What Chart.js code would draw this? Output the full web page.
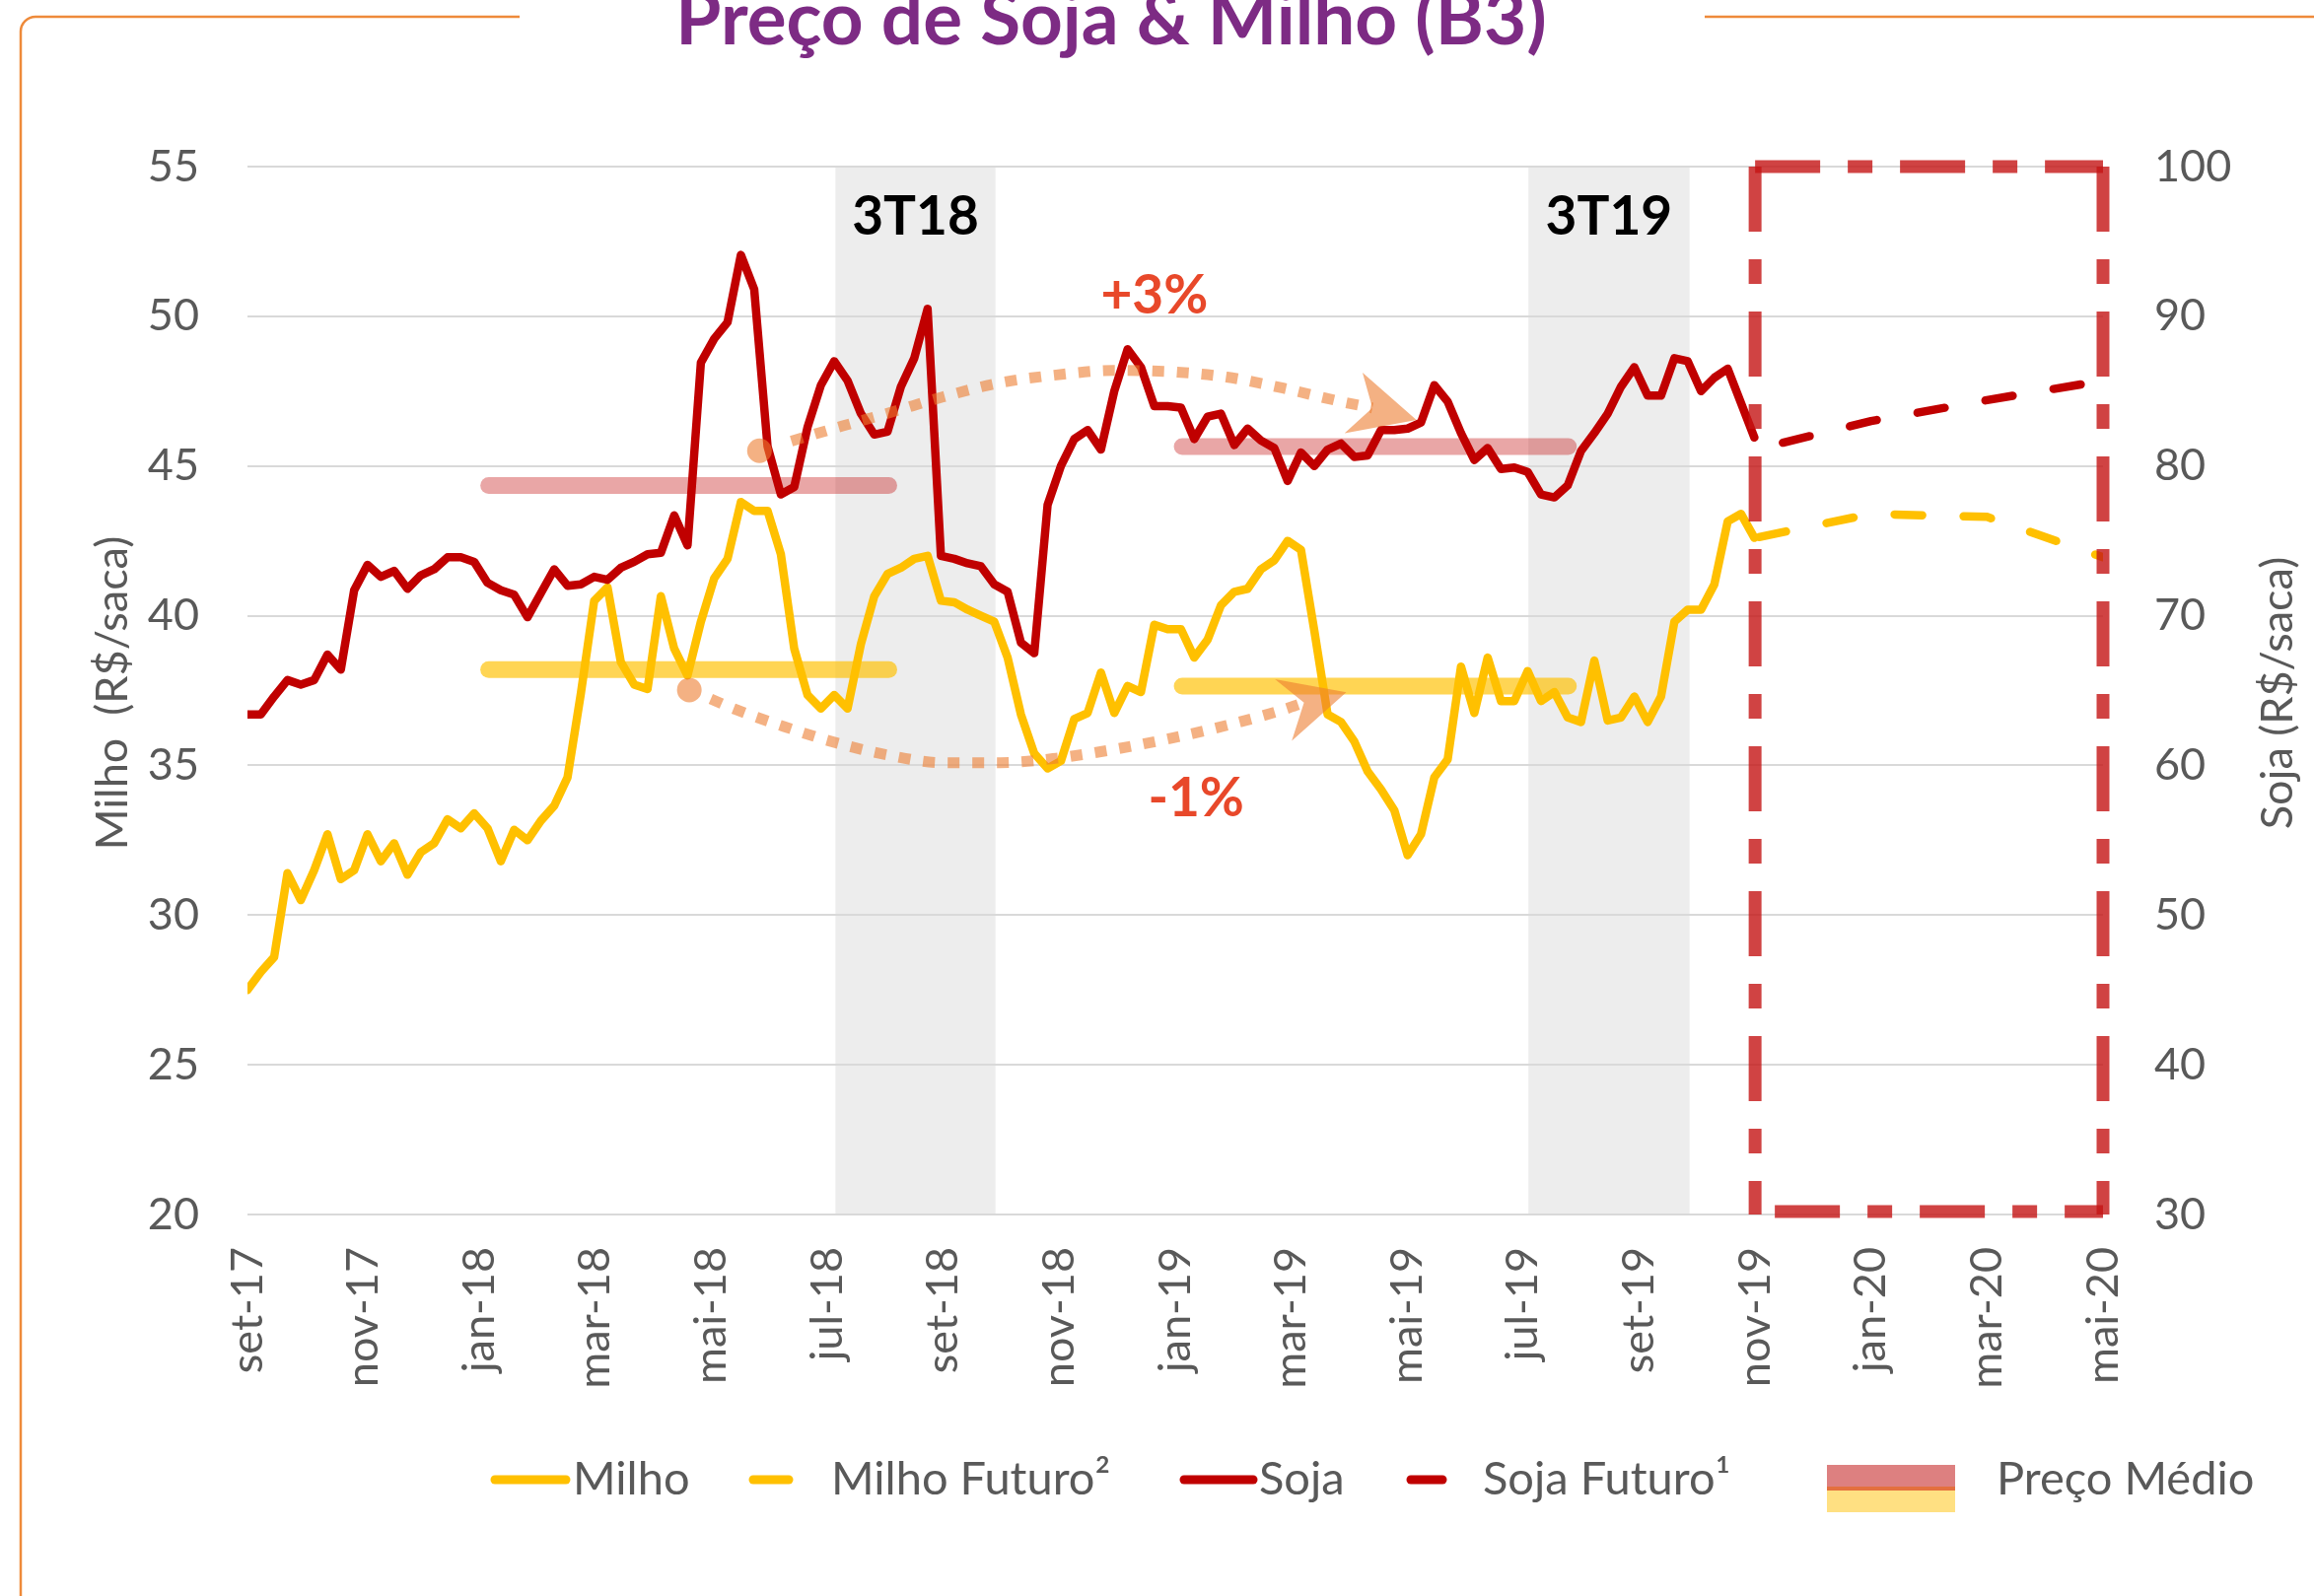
<!DOCTYPE html>
<html><head><meta charset="utf-8">
<script src="https://cdn.jsdelivr.net/npm/chart.js@4.4.0/dist/chart.umd.min.js"></script>
<style>html,body{margin:0;padding:0;background:#fff;}canvas{display:block;}</style>
</head><body>
<canvas id="c" width="2347" height="1619"></canvas>
<script>
// ---- data ----
const tickLabels = ['set-17','nov-17','jan-18','mar-18','mai-18','jul-18','set-18','nov-18','jan-19','mar-19','mai-19','jul-19','set-19','nov-19','jan-20','mar-20','mai-20'];
const milho = [27.5,28.1,28.6,31.4,30.5,31.5,32.7,31.2,31.5,32.7,
 31.8,32.4,31.35,32.1,32.4,33.2,32.9,33.4,32.9,31.8,
 32.85,32.5,33.15,33.65,34.6,37.4,40.5,40.95,38.45,37.7,
 37.55,40.65,38.9,38.0,39.8,41.25,41.9,43.8,43.5,43.5,
 42.05,38.9,37.35,36.9,37.35,36.9,39.05,40.65,41.4,41.6,
 41.9,42.0,40.5,40.45,40.2,40.0,39.8,38.6,36.7,35.4,
 34.9,35.15,36.55,36.75,38.1,36.75,37.65,37.45,39.7,39.55,
 39.55,38.6,39.2,40.35,40.8,40.9,41.55,41.85,42.5,42.2,
 39.5,36.7,36.45,35.8,34.8,34.2,33.5,32.0,32.7,34.6,
 35.2,38.3,36.75,38.6,37.15,37.15,38.15,37.15,37.45,36.6,
 36.45,38.5,36.5,36.6,37.3,36.45,37.3,39.8,40.2,40.2,
 41.05,43.15,43.4,42.6];
const soja = [63.4,63.4,64.6,65.7,65.4,65.7,67.4,66.4,71.7,73.4,
 72.6,73.0,71.8,72.7,73.1,73.9,73.9,73.6,72.2,71.7,
 71.4,69.9,71.5,73.1,72.0,72.1,72.6,72.4,73.2,73.6,
 74.1,74.2,76.7,74.7,86.9,88.5,89.6,94.1,91.8,81.3,
 78.1,78.6,82.6,85.4,87.0,85.7,83.5,82.1,82.3,85.3,
 87.2,90.5,74.0,73.8,73.5,73.3,72.1,71.6,68.2,67.5,
 77.4,80.0,81.8,82.4,81.1,85.0,87.8,86.6,84.0,84.0,
 83.9,81.8,83.3,83.5,81.4,82.5,81.7,81.2,79.0,80.9,
 80.0,81.1,81.5,80.6,80.7,82.4,82.4,82.5,82.9,85.4,
 84.3,82.2,80.4,81.2,79.8,79.9,79.6,78.1,77.9,78.7,
 81.0,82.2,83.5,85.3,86.6,84.7,84.7,87.2,87.0,85.0,
 85.9,86.5,null,81.9];
const futuroMeses = [26, 28, 30, 32];
const milhoFuturo = [42.6, 43.4, 43.3, 41.95];
const sojaFuturo = [81.1, 83.0, 84.4, 85.7];
const trimestres = ['3T18', '3T19'];
const trimestreInicio = [10.14, 22.09];
const trimestreFim = [12.9, 24.87];
const mediaInicio = [4.16, 16.12];
const mediaFim = [11.06, 22.78];
const mediaSoja = [78.7, 81.3];
const mediaMilho = [38.2, 37.65];
const variacoes = ['+3%', '-1%'];
const variacaoX = [15.64, 16.36];
const variacaoY = [50.67, 33.89];
const arcoSojaX = [8.83, 9.38, 10.25, 11.11, 12.0, 12.98, 13.95, 14.93, 15.91, 16.89, 17.86, 18.84, 19.4];
const arcoSojaY = [45.51, 45.83, 46.33, 46.8, 47.31, 47.78, 48.04, 48.19, 48.15, 47.97, 47.6, 47.16, 46.94];
const arcoMilhoX = [7.62, 7.99, 8.43, 9.25, 10.16, 11.03, 12.0, 12.98, 13.95, 14.93, 15.91, 16.89, 17.86, 18.22];
const arcoMilhoY = [37.52, 37.22, 36.86, 36.3, 35.75, 35.35, 35.09, 35.09, 35.24, 35.53, 35.9, 36.34, 36.86, 37.1];
const setaSojaX = [19.23, 20.16, 18.92, 19.4];
const setaSojaY = [48.12, 46.54, 46.09, 46.94];
const setaMilhoX = [17.72, 18.95, 18.01, 18.22];
const setaMilhoY = [37.88, 37.44, 35.82, 37.1];
const caixaFuturo = [26, 32];

// ---- helpers ----
const diasPorMes = 30.4375;
const semanaX = i => i * 7 / diasPorMes;
const serie = ys => ys.map((v, i) => ({x: semanaX(i), y: v}));
const pares = (xs, ys) => xs.map((v, i) => ({x: v, y: ys[i]}));
const FONT = 'Lato, "Open Sans", sans-serif';
const GREY = '#595959';
const ARC = 'rgba(237,125,49,0.6)';
const LW = 8.5;

const decor = {
  id: 'decor',
  beforeDraw(chart) {
    const {ctx, chartArea: a, scales: {x}} = chart;
    ctx.save();
    ctx.fillStyle = '#fff';
    ctx.fillRect(0, 0, chart.width, chart.height);
    ctx.fillStyle = '#EDEDED';
    trimestres.forEach((t, i) => {
      const x0 = x.getPixelForValue(trimestreInicio[i]);
      const x1 = x.getPixelForValue(trimestreFim[i]);
      ctx.fillRect(x0, a.top, x1 - x0, a.bottom - a.top);
    });
    ctx.restore();
  },
  afterDatasetsDraw(chart) {
    const {ctx, chartArea: a, scales: {x, y}} = chart;
    ctx.save();
    [[setaSojaX, setaSojaY], [setaMilhoX, setaMilhoY]].forEach(([xs, ys]) => {
      ctx.beginPath();
      xs.forEach((v, i) => {
        const px = x.getPixelForValue(v), py = y.getPixelForValue(ys[i]);
        if (i === 0) ctx.moveTo(px, py); else ctx.lineTo(px, py);
      });
      ctx.closePath();
      ctx.fillStyle = ARC;
      ctx.fill();
    });
    const bx0 = x.getPixelForValue(caixaFuturo[0]);
    const bx1 = x.getPixelForValue(caixaFuturo[1]);
    ctx.strokeStyle = 'rgba(196,20,20,0.8)';
    ctx.lineWidth = 13;
    ctx.setLineDash([66, 28, 25, 28]);
    ctx.beginPath(); ctx.moveTo(bx0, a.top); ctx.lineTo(bx1, a.top); ctx.stroke();
    ctx.beginPath(); ctx.moveTo(bx0, a.top); ctx.lineTo(bx0, a.bottom); ctx.stroke();
    ctx.beginPath(); ctx.moveTo(bx1, a.top); ctx.lineTo(bx1, a.bottom); ctx.stroke();
    ctx.beginPath(); ctx.moveTo(bx0 + 20, a.bottom - 3); ctx.lineTo(bx1, a.bottom - 3); ctx.stroke();
    ctx.setLineDash([]);
    ctx.fillStyle = '#000';
    ctx.font = `bold 55px ${FONT}`;
    ctx.textAlign = 'center';
    ctx.textBaseline = 'middle';
    trimestres.forEach((t, i) => {
      const cx = x.getPixelForValue((trimestreInicio[i] + trimestreFim[i]) / 2);
      ctx.fillText(t, cx, y.getPixelForValue(53.3));
    });
    ctx.fillStyle = '#E8482A';
    ctx.font = `bold 55px ${FONT}`;
    variacoes.forEach((t, i) => {
      ctx.fillText(t, x.getPixelForValue(variacaoX[i]), y.getPixelForValue(variacaoY[i]));
    });
    ctx.restore();
  },
  afterDraw(chart) {
    const {ctx} = chart;
    ctx.save();
    ctx.strokeStyle = '#EE8A3A';
    ctx.lineWidth = 2.5;
    ctx.beginPath();
    ctx.moveTo(21, 1619);
    ctx.lineTo(21, 32);
    ctx.arcTo(21, 17, 36, 17, 15);
    ctx.lineTo(527, 17);
    ctx.stroke();
    ctx.beginPath();
    ctx.moveTo(1729, 17);
    ctx.lineTo(2347, 17);
    ctx.stroke();
    const titulo = 'Preço de Soja & Milho (B3)';
    ctx.font = `bold 80px ${FONT}`;
    const w = ctx.measureText(titulo).width;
    const size = 80 * 883 / w;
    ctx.font = `bold ${size.toFixed(1)}px ${FONT}`;
    ctx.fillStyle = '#7D2B84';
    ctx.textAlign = 'center';
    ctx.textBaseline = 'alphabetic';
    ctx.fillText(titulo, 1127, 45);
    ctx.fillStyle = GREY;
    ctx.font = `45px ${FONT}`;
    ctx.textBaseline = 'middle';
    ctx.save();
    ctx.translate(114, 703);
    ctx.rotate(-Math.PI / 2);
    ctx.fillText('Milho  (R$/saca)', 0, 0);
    ctx.restore();
    ctx.save();
    ctx.translate(2310, 703);
    ctx.rotate(-Math.PI / 2);
    ctx.fillText('Soja (R$/saca)', 0, 0);
    ctx.restore();
    const ly = 1501;
    ctx.lineCap = 'round';
    ctx.lineWidth = 9;
    const seg = (x0, x1, c) => { ctx.strokeStyle = c; ctx.beginPath(); ctx.moveTo(x0, ly); ctx.lineTo(x1, ly); ctx.stroke(); };
    seg(502, 574, '#FFC000');
    seg(764, 800, '#FFC000');
    seg(1201, 1271, '#C00000');
    seg(1431, 1463, '#C00000');
    ctx.fillStyle = '#DD8080';
    ctx.fillRect(1853, 1486, 130, 22);
    ctx.fillStyle = '#E4703E';
    ctx.fillRect(1853, 1508, 130, 4);
    ctx.fillStyle = '#FFE082';
    ctx.fillRect(1853, 1512, 130, 22);
    ctx.fillStyle = GREY;
    ctx.font = `47px ${FONT}`;
    ctx.textAlign = 'left';
    ctx.textBaseline = 'middle';
    ctx.fillText('Milho', 581, ly);
    ctx.fillText('Milho Futuro²', 843, ly);
    ctx.fillText('Soja', 1277, ly);
    ctx.fillText('Soja Futuro¹', 1504, ly);
    ctx.fillText('Preço Médio', 2025, ly);
    ctx.restore();
  }
};

const linha = (data, color, axis, extra) => Object.assign({
  data, borderColor: color, backgroundColor: color, yAxisID: axis,
  borderWidth: LW, pointRadius: 0, borderJoinStyle: 'round', borderCapStyle: 'round',
  tension: 0, spanGaps: true, fill: false
}, extra || {});

const datasets = [
  linha(pares([mediaInicio[0], mediaFim[0]], [mediaSoja[0], mediaSoja[0]]), 'rgba(192,0,0,0.35)', 'y1', {borderWidth: 17, order: 0}),
  linha(pares([mediaInicio[1], mediaFim[1]], [mediaSoja[1], mediaSoja[1]]), 'rgba(192,0,0,0.35)', 'y1', {borderWidth: 17, order: 0}),
  linha(pares([mediaInicio[0], mediaFim[0]], [mediaMilho[0], mediaMilho[0]]), 'rgba(255,192,0,0.67)', 'y', {borderWidth: 17, order: 0}),
  linha(pares([mediaInicio[1], mediaFim[1]], [mediaMilho[1], mediaMilho[1]]), 'rgba(255,192,0,0.67)', 'y', {borderWidth: 17, order: 0}),
  linha(pares(arcoSojaX.slice(1), arcoSojaY.slice(1)), ARC, 'y', {borderWidth: 11, borderDash: [12, 13], borderCapStyle: 'butt', cubicInterpolationMode: 'monotone', order: 1}),
  linha(pares(arcoMilhoX.slice(1), arcoMilhoY.slice(1)), ARC, 'y', {borderWidth: 11, borderDash: [12, 13], borderCapStyle: 'butt', cubicInterpolationMode: 'monotone', order: 1}),
  linha([{x: arcoSojaX[0], y: arcoSojaY[0]}, {x: arcoMilhoX[0], y: arcoMilhoY[0]}], ARC, 'y', {showLine: false, pointRadius: 12.5, pointBorderWidth: 0, pointBackgroundColor: ARC, order: 1}),
  linha(serie(milho), '#FFC000', 'y', {order: 3}),
  linha(serie(soja), '#C00000', 'y1', {order: 2}),
  linha(pares(futuroMeses, milhoFuturo), '#FFC000', 'y', {borderDash: [28, 42], borderDashOffset: 66, order: 3}),
  linha(pares(futuroMeses, sojaFuturo), '#C00000', 'y1', {borderDash: [28, 42], borderDashOffset: 41, order: 2})
];

new Chart(document.getElementById('c'), {
  type: 'line',
  data: {datasets},
  options: {
    responsive: false, animation: false, devicePixelRatio: 1,
    layout: {padding: {top: 169, left: 0, right: 0, bottom: 0}},
    plugins: {legend: {display: false}, tooltip: {enabled: false}, title: {display: false}},
    scales: {
      x: {
        type: 'linear', min: 0, max: 32, position: 'bottom',
        afterFit: s => { s.height = 387; },
        grid: {display: false, drawTicks: false}, border: {display: false},
        ticks: {stepSize: 2, autoSkip: false, maxRotation: 90, minRotation: 90, padding: 33,
          font: {family: FONT, size: 45}, color: GREY,
          callback: v => tickLabels[Math.round(v / 2)]}
      },
      y: {
        position: 'left', min: 20, max: 55,
        afterFit: s => { s.width = 251; },
        grid: {color: '#D9D9D9', lineWidth: 2, drawTicks: false}, border: {display: false},
        ticks: {stepSize: 5, padding: 49, font: {family: FONT, size: 45}, color: GREY}
      },
      y1: {
        position: 'right', min: 30, max: 100,
        afterFit: s => { s.width = 214; },
        grid: {display: false, drawTicks: false}, border: {display: false},
        ticks: {stepSize: 10, padding: 52, font: {family: FONT, size: 45}, color: GREY}
      }
    }
  },
  plugins: [decor]
});
</script>
</body></html>
